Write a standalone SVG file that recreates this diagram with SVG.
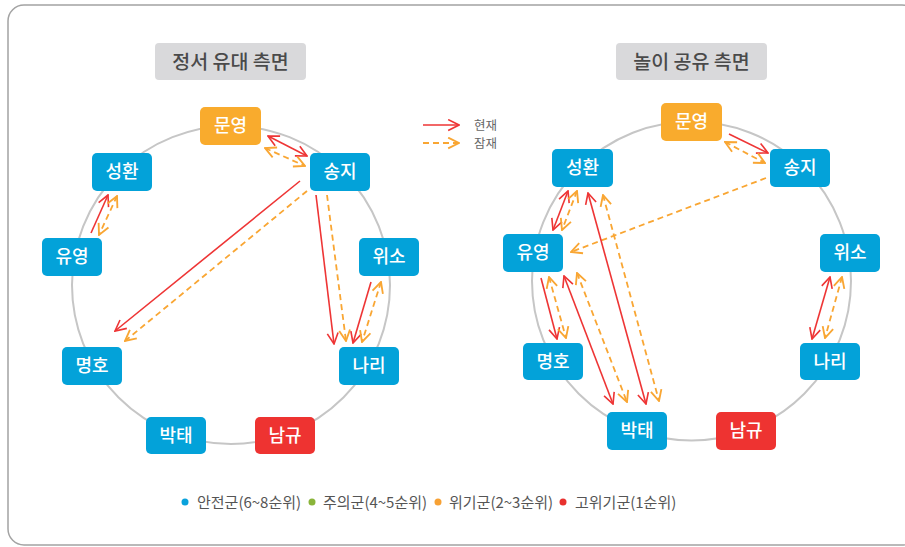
<svg xmlns="http://www.w3.org/2000/svg" width="905" height="547" viewBox="0 0 905 547">
<defs>
<style>
.frame{fill:#fff;stroke:#a3a3a3;stroke-width:1.5}
.title-bg{fill:#d9d9db}
.title{font-family:"Noto Sans CJK KR","Noto Sans",sans-serif;font-size:19.5px;font-weight:500;fill:#4a4a4a;text-anchor:middle}
.ring{fill:none;stroke:#c6c6c6;stroke-width:2}
.blue{fill:#03a2d9}
.orange{fill:#f9ab2d}
.red{fill:#ee3331}
.nt{font-family:"Noto Sans CJK KR","Noto Sans",sans-serif;font-size:18px;font-weight:500;fill:#fff;text-anchor:middle}
.cur{stroke:#ee3535;stroke-width:1.6;fill:none}
.pot{stroke:#f9a633;stroke-width:1.8;fill:none;stroke-dasharray:6 4}
.lg{font-family:"Noto Sans CJK KR","Noto Sans",sans-serif;font-size:12.5px;fill:#666}
.lb{font-family:"Noto Sans CJK KR","Noto Sans",sans-serif;font-size:15px;fill:#555}
</style>
<marker id="hr" viewBox="0 0 12 12" refX="11" refY="6" markerWidth="13" markerHeight="13" markerUnits="userSpaceOnUse" orient="auto-start-reverse">
<path d="M1,1 L11,6 L1,11" fill="none" stroke="#ee3535" stroke-width="1.5"/>
</marker>
<marker id="ho" viewBox="0 0 12 12" refX="11" refY="6" markerWidth="13" markerHeight="13" markerUnits="userSpaceOnUse" orient="auto-start-reverse">
<path d="M1,1 L11,6 L1,11" fill="none" stroke="#f9a633" stroke-width="1.7"/>
</marker>
</defs>

<rect class="frame" x="8" y="5" width="910" height="540" rx="16"/>

<g id="title-left">
<rect class="title-bg" x="155" y="43" width="151" height="37" rx="4"/>
<text class="title" x="230.5" y="68.5">정서 유대 측면</text>
</g>
<g id="title-right">
<rect class="title-bg" x="616" y="43" width="151" height="37" rx="4"/>
<text class="title" x="691.5" y="68.5">놀이 공유 측면</text>
</g>

<circle class="ring" cx="231" cy="285" r="159"/>
<circle class="ring" cx="691.5" cy="281" r="159.5"/>

<g id="connectors">
<!-- left -->
<line class="cur" x1="268" y1="136" x2="307" y2="156" marker-start="url(#hr)" marker-end="url(#hr)"/>
<line class="pot" x1="265" y1="148" x2="305" y2="166" marker-start="url(#ho)" marker-end="url(#ho)"/>
<line class="cur" x1="91" y1="233" x2="108" y2="195" marker-end="url(#hr)"/>
<line class="pot" x1="117" y1="196" x2="99" y2="235" marker-start="url(#ho)" marker-end="url(#ho)"/>
<line class="cur" x1="300" y1="181" x2="115" y2="331" marker-end="url(#hr)"/>
<line class="pot" x1="307" y1="191" x2="125" y2="341" marker-end="url(#ho)"/>
<line class="cur" x1="316" y1="195" x2="334" y2="344" marker-end="url(#hr)"/>
<line class="pot" x1="327" y1="195" x2="346" y2="341" marker-end="url(#ho)"/>
<line class="cur" x1="371" y1="282" x2="353" y2="343" marker-end="url(#hr)"/>
<line class="pot" x1="381" y1="282" x2="362" y2="342" marker-start="url(#ho)" marker-end="url(#ho)"/>
<!-- right -->
<line class="cur" x1="729" y1="134" x2="768" y2="153" marker-end="url(#hr)"/>
<line class="pot" x1="725" y1="142" x2="765" y2="163" marker-start="url(#ho)" marker-end="url(#ho)"/>
<line class="pot" x1="766" y1="178" x2="571" y2="252" marker-end="url(#ho)"/>
<line class="cur" x1="568" y1="191" x2="553" y2="230" marker-start="url(#hr)" marker-end="url(#hr)"/>
<line class="pot" x1="577" y1="191" x2="562" y2="230" marker-start="url(#ho)" marker-end="url(#ho)"/>
<line class="cur" x1="588" y1="193" x2="646" y2="404" marker-start="url(#hr)" marker-end="url(#hr)"/>
<line class="pot" x1="603" y1="195" x2="659" y2="401" marker-start="url(#ho)" marker-end="url(#ho)"/>
<line class="cur" x1="564" y1="276" x2="613" y2="404" marker-start="url(#hr)" marker-end="url(#hr)"/>
<line class="pot" x1="577" y1="273" x2="627" y2="402" marker-start="url(#ho)" marker-end="url(#ho)"/>
<line class="cur" x1="541" y1="278" x2="557" y2="339" marker-end="url(#hr)"/>
<line class="pot" x1="549" y1="277" x2="566" y2="338" marker-start="url(#ho)" marker-end="url(#ho)"/>
<line class="cur" x1="830" y1="277" x2="812" y2="339" marker-start="url(#hr)" marker-end="url(#hr)"/>
<line class="pot" x1="842" y1="277" x2="825" y2="338" marker-start="url(#ho)" marker-end="url(#ho)"/>
</g>

<!-- left nodes -->
<g id="L-munyeong"><rect class="orange" x="200" y="107" width="61" height="38" rx="5"/><text class="nt" x="230.5" y="132">문영</text></g>
<g id="L-seonghwan"><rect class="blue" x="92" y="153" width="60" height="38" rx="5"/><text class="nt" x="122" y="178">성환</text></g>
<g id="L-songji"><rect class="blue" x="310" y="153" width="60" height="38" rx="5"/><text class="nt" x="340" y="178">송지</text></g>
<g id="L-yuyeong"><rect class="blue" x="42" y="238" width="60" height="38" rx="5"/><text class="nt" x="72" y="263">유영</text></g>
<g id="L-wiso"><rect class="blue" x="359" y="238" width="60" height="38" rx="5"/><text class="nt" x="389" y="263">위소</text></g>
<g id="L-myeongho"><rect class="blue" x="62" y="347" width="60" height="38" rx="5"/><text class="nt" x="92" y="372">명호</text></g>
<g id="L-nari"><rect class="blue" x="339" y="347" width="60" height="38" rx="5"/><text class="nt" x="369" y="372">나리</text></g>
<g id="L-baktae"><rect class="blue" x="146" y="417" width="60" height="37" rx="5"/><text class="nt" x="176" y="441.5">박태</text></g>
<g id="L-namgyu"><rect class="red" x="255" y="417" width="60" height="37" rx="5"/><text class="nt" x="285" y="441.5">남규</text></g>

<!-- right nodes -->
<g id="R-munyeong"><rect class="orange" x="661" y="103" width="61" height="38" rx="5"/><text class="nt" x="691.5" y="128">문영</text></g>
<g id="R-seonghwan"><rect class="blue" x="552" y="149" width="61" height="38" rx="5"/><text class="nt" x="582.5" y="174">성환</text></g>
<g id="R-songji"><rect class="blue" x="770" y="149" width="60" height="38" rx="5"/><text class="nt" x="800" y="174">송지</text></g>
<g id="R-yuyeong"><rect class="blue" x="503" y="234" width="60" height="38" rx="5"/><text class="nt" x="533" y="259">유영</text></g>
<g id="R-wiso"><rect class="blue" x="820" y="234" width="60" height="38" rx="5"/><text class="nt" x="850" y="259">위소</text></g>
<g id="R-myeongho"><rect class="blue" x="523" y="343" width="60" height="37" rx="5"/><text class="nt" x="553" y="367.5">명호</text></g>
<g id="R-nari"><rect class="blue" x="800" y="343" width="60" height="37" rx="5"/><text class="nt" x="830" y="367.5">나리</text></g>
<g id="R-baktae"><rect class="blue" x="607" y="412" width="60" height="38" rx="5"/><text class="nt" x="637" y="437">박태</text></g>
<g id="R-namgyu"><rect class="red" x="716" y="412" width="60" height="38" rx="5"/><text class="nt" x="746" y="437">남규</text></g>

<g id="legend-lines">
<line class="cur" x1="423" y1="125" x2="459" y2="125" marker-end="url(#hr)"/>
<text class="lg" x="474" y="130">현재</text>
<line class="pot" x1="423" y1="143" x2="459" y2="143" marker-end="url(#ho)"/>
<text class="lg" x="474" y="148">잠재</text>
</g>

<g id="legend-groups">
<circle cx="185" cy="502" r="3.5" fill="#0aa2dc"/>
<text class="lb" x="197" y="507.5">안전군(6~8순위)</text>
<circle cx="312" cy="502" r="3.5" fill="#8ab43a"/>
<text class="lb" x="323" y="507.5">주의군(4~5순위)</text>
<circle cx="438" cy="502" r="3.5" fill="#f7a134"/>
<text class="lb" x="449" y="507.5">위기군(2~3순위)</text>
<circle cx="563" cy="502" r="3.5" fill="#e8312f"/>
<text class="lb" x="575" y="507.5">고위기군(1순위)</text>
</g>
</svg>
